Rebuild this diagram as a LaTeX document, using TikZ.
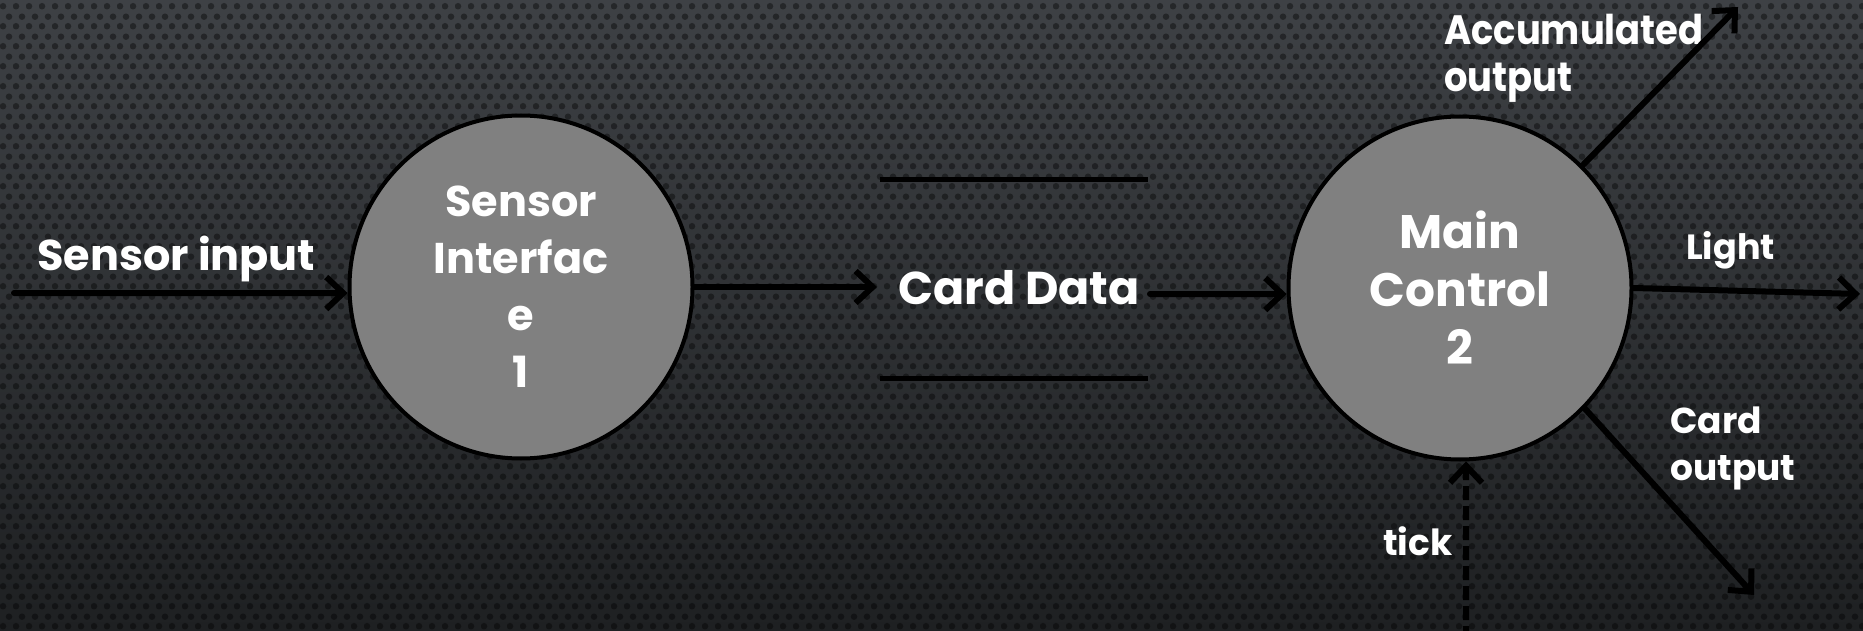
\documentclass[tikz,border=0pt]{standalone}
\usepackage{fontspec}
\setmainfont{Poppins}
\newfontfamily\narrowpop{Poppins}[FakeStretch=0.9]
\usetikzlibrary{arrows.meta,patterns.meta}
\definecolor{bgtop}{HTML}{3E4145}
\definecolor{bgbot}{HTML}{1E2022}
\definecolor{procfill}{HTML}{808080}
\tikzdeclarepattern{
  name=bgdots,
  type=uncolored,
  bounding box={(0pt,0pt) and (12.5pt,20pt)},
  tile size={(12.5pt,20pt)},
  code={
    \fill (3.125pt,5pt) circle (3.4pt);
    \fill (9.375pt,15pt) circle (3.4pt);
  }
}
\tikzset{
  process/.style={circle, draw=black, line width=4pt, fill=procfill,
    minimum size=343pt, inner sep=0pt, text=white, align=center},
  flow/.style={line width=6pt, line cap=round,
    -{Straight Barb[length=17pt,width=32pt,line width=6pt]}},
  tickflow/.style={line width=6pt, dash pattern=on 14pt off 6pt,
    -{Straight Barb[length=17pt,width=32pt,line width=6pt]}},
  storeline/.style={line width=5pt},
  lbl/.style={text=white, inner sep=0pt, font=\bfseries\fontsize{46}{50}\selectfont},
  slbl/.style={text=white, inner sep=0pt, align=left, font=\bfseries\fontsize{36}{47}\selectfont}
}
\begin{document}
\begin{tikzpicture}[x=1pt,y=-1pt]
\useasboundingbox (0,0) rectangle (1863,631);
\fill[top color=bgtop, bottom color=bgbot] (0,0) rectangle (1863,631);
\fill[pattern=bgdots, pattern color=black, fill opacity=0.4] (0,0) rectangle (1863,631);

\node[process, font=\bfseries\fontsize{43}{57}\selectfont] (s1) at (521,287) {Sensor\\Interfac\\e\\1};
\node[process, font=\bfseries\fontsize{47}{58}\selectfont] (s2) at (1460,288) {Main\\Control\\2};

\node[lbl, anchor=base west, font=\bfseries\fontsize{43}{50}\selectfont] (lin) at (37,270) {Sensor input};
\node[lbl, anchor=base west] (lcd) at (898,304) {Card Data};
\node[lbl, anchor=base west, align=left, font=\narrowpop\bfseries\fontsize{41}{47}\selectfont] (lacc) at (1444,92) {Accumulated\\output};
\node[slbl, anchor=base west, font=\bfseries\fontsize{35}{47}\selectfont] (llight) at (1686,259) {Light};
\node[slbl, anchor=base west] (lcard) at (1670,480) {Card\\output};
\node[slbl, anchor=base west] (ltick) at (1383,555) {tick};

\coordinate (stTL) at (880,180);
\coordinate (stTR) at (1148,180);
\coordinate (stBL) at (880,378);
\coordinate (stBR) at (1148,378);
\draw[storeline] (stTL) -- (stTR);
\draw[storeline] (stBL) -- (stBR);

\coordinate (inStart) at (14,293);
\coordinate (storeIn) at (877,287);
\coordinate (storeOut) at (1150,294);
\coordinate (accEnd) at (1738,7);
\coordinate (lightEnd) at (1860,294);
\coordinate (cardEnd) at (1754,595);
\coordinate (tickStart) at (1466,640);

\draw[flow] (inStart) -- (s1.182);
\draw[flow] (s1.east) -- (storeIn);
\draw[flow] (storeOut) -- (s2.182);
\draw[flow] (s2.45) -- (accEnd);
\draw[flow] (s2.0) -- (lightEnd);
\draw[flow] (s2.-44) -- (cardEnd);
\draw[tickflow] (tickStart) -- (s2.-88);
\end{tikzpicture}
\end{document}
